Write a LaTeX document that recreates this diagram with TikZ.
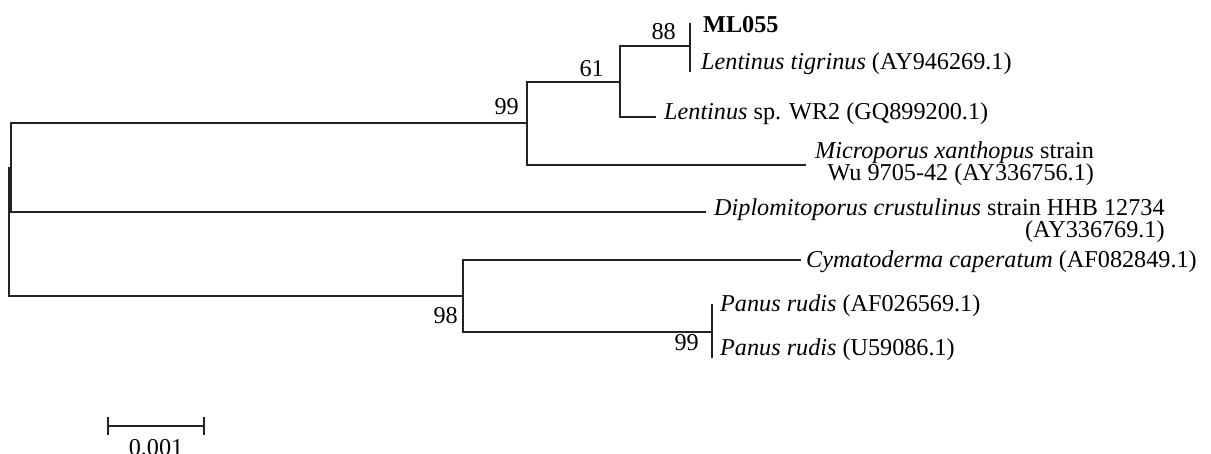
\documentclass[tikz,border=0pt]{standalone}
\usepackage{fontspec}
\setmainfont{Liberation Serif}
\definecolor{brc}{RGB}{35,35,35}
\begin{document}
\begin{tikzpicture}[x=1pt,y=-1pt,
  br/.style={line width=1.8pt, draw=brc, line cap=rect},
  txt/.style={inner sep=0pt, font=\fontsize{24.2}{27}\selectfont},
  leaf/.style={txt, anchor=base west},
  leafr/.style={txt, anchor=base east},
  boot/.style={txt, anchor=base east}]
\useasboundingbox (0,0) rectangle (1211,454);
% internal nodes
\coordinate (r) at (9,168);
\coordinate (a) at (11,168);
\coordinate (n99) at (527,123);
\coordinate (n61) at (620,82);
\coordinate (n88) at (690,46);
\coordinate (n98) at (463,296);
\coordinate (n99b) at (712,332);
% tips
\coordinate (tML) at (690,24);
\coordinate (tLt) at (690,71);
\coordinate (tLs) at (655,117);
\coordinate (tMx) at (805,165);
\coordinate (tDc) at (705,212);
\coordinate (tCc) at (800,260);
\coordinate (tP1) at (712,305);
\coordinate (tP2) at (712,357);
% branches
\draw[br] (r) |- (n98);
\draw[br] (r) -- (a);
\draw[br] (a) |- (n99);
\draw[br] (a) |- (tDc);
\draw[br] (n99) |- (n61);
\draw[br] (n99) |- (tMx);
\draw[br] (n61) |- (n88);
\draw[br] (n61) |- (tLs);
\draw[br] (n88) -- (tML);
\draw[br] (n88) -- (tLt);
\draw[br] (n98) |- (tCc);
\draw[br] (n98) |- (n99b);
\draw[br] (n99b) -- (tP1);
\draw[br] (n99b) -- (tP2);
% leaf labels
\node[leaf] (lML) at (703,33) {\textbf{ML055}};
\node[leaf] (lLt) at (701,70) {\textit{Lentinus tigrinus} (AY946269.1)};
\node[leaf] (lLs) at (664,120) {\textit{Lentinus} sp. WR2 (GQ899200.1)};
\node[leaf] (lMx) at (815,159) {\textit{Microporus xanthopus} strain};
\node[leafr] (lMx2) at ([yshift=-22pt]lMx.base east) {Wu 9705-42 (AY336756.1)};
\node[leaf] (lDc) at (714,216) {\textit{Diplomitoporus crustulinus} strain HHB 12734};
\node[leafr] (lDc2) at ([yshift=-22pt]lDc.base east) {(AY336769.1)};
\node[leaf] (lCc) at (806,268) {\textit{Cymatoderma caperatum} (AF082849.1)};
\node[leaf] (lP1) at (720,312) {\textit{Panus rudis} (AF026569.1)};
\node[leaf] (lP2) at (720,356) {\textit{Panus rudis} (U59086.1)};
% bootstrap values
\node[boot] (b88) at (676,40) {88};
\node[boot] (b61) at (604,77) {61};
\node[boot] (b99) at (519,115) {99};
\node[boot] (b98) at (458,324) {98};
\node[boot] (b99b) at (699,351) {99};
% scale bar
\coordinate (s1) at (108,426);
\coordinate (s2) at (204,426);
\draw[br, line cap=butt] (s1) -- (s2);
\draw[br, line cap=butt] ([yshift=9pt]s1) -- ([yshift=-9pt]s1);
\draw[br, line cap=butt] ([yshift=9pt]s2) -- ([yshift=-9pt]s2);
\node[txt, anchor=base] (sl) at (156,456) {0.001};
\end{tikzpicture}
\end{document}
